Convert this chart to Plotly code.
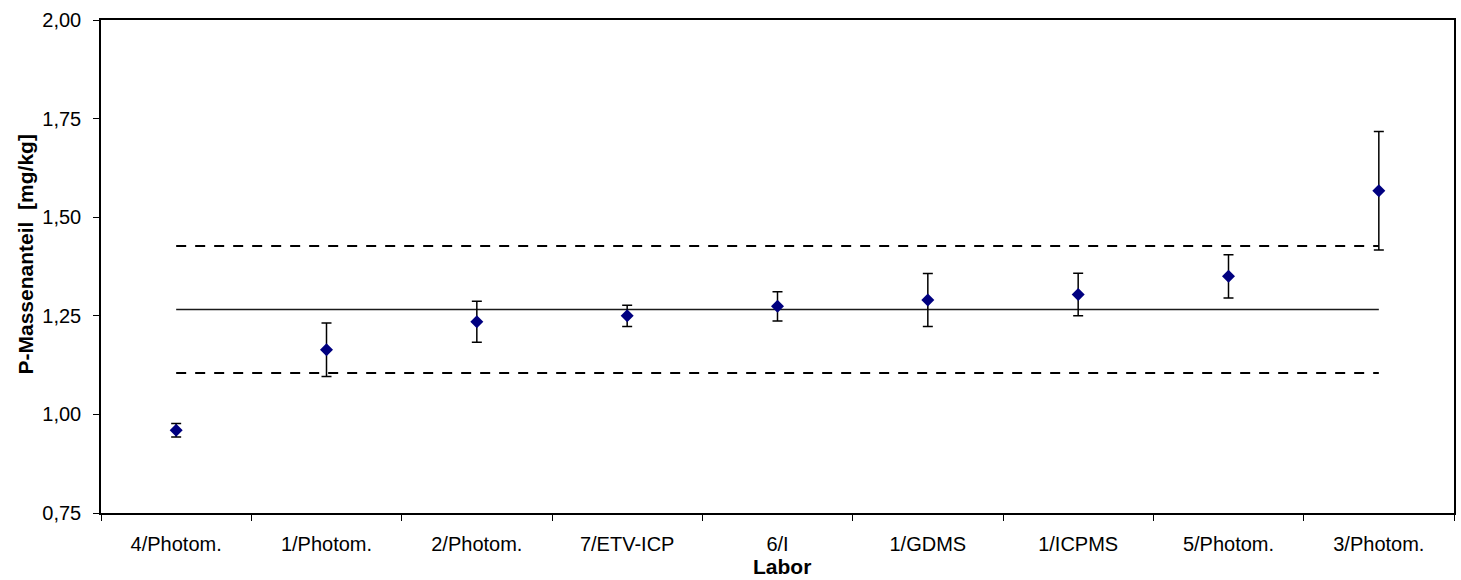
import plotly.graph_objects as go

labs = ["4/Photom.", "1/Photom.", "2/Photom.", "7/ETV-ICP", "6/I",
        "1/GDMS", "1/ICPMS", "5/Photom.", "3/Photom."]
values = [0.960, 1.164, 1.235, 1.250, 1.274, 1.290, 1.304, 1.350, 1.567]
uncert = [0.017, 0.068, 0.052, 0.027, 0.037, 0.067, 0.054, 0.055, 0.150]
mean_val = 1.266
lower_lim = 1.105
upper_lim = 1.427
y_ticks = [0.75, 1.0, 1.25, 1.5, 1.75, 2.0]

FONT = "Liberation Sans, Arial, sans-serif"

fig = go.Figure()

fig.add_trace(go.Scatter(
    x=[labs[0], labs[-1]], y=[mean_val, mean_val], mode="lines",
    line=dict(color="#1a1a1a", width=1.5), showlegend=False, hoverinfo="skip"))
for lim in (lower_lim, upper_lim):
    fig.add_trace(go.Scatter(
        x=[labs[0], labs[-1]], y=[lim, lim], mode="lines",
        line=dict(color="black", width=2, dash="10px,9px"),
        showlegend=False, hoverinfo="skip"))

fig.add_trace(go.Scatter(
    x=labs, y=values, mode="markers",
    marker=dict(symbol="diamond", color="#000080", size=10),
    error_y=dict(type="data", array=uncert, visible=True,
                 color="black", thickness=1.5, width=5),
    showlegend=False))

fig.update_layout(
    width=1461, height=580,
    margin=dict(l=101, r=5, t=20, b=67),
    plot_bgcolor="white", paper_bgcolor="white",
    separators=",.",
    font=dict(family=FONT, color="black", size=20),
)
fig.update_xaxes(
    type="category", categoryorder="array", categoryarray=labs,
    range=[-0.5, 8.5],
    showline=True, linecolor="black", linewidth=1.5, mirror=True,
    ticks="outside", tickson="boundaries", ticklen=6, tickcolor="black",
    showgrid=False, tickfont=dict(size=20), ticklabelstandoff=12,
)
fig.update_yaxes(
    range=[0.75, 2.0], tickvals=y_ticks,
    tickformat=".2f",
    showline=True, linecolor="black", linewidth=1.5, mirror=True,
    ticks="outside", ticklen=6, tickcolor="black",
    showgrid=False, zeroline=False, tickfont=dict(size=20), ticklabelstandoff=8,
)
fig.add_annotation(
    text="<b>Labor</b>", xref="paper", yref="paper", x=0.5, y=0,
    xanchor="center", yanchor="top", xshift=4, yshift=-40,
    showarrow=False, font=dict(family=FONT, size=21, color="black"))
fig.add_annotation(
    text="<b>P-Massenanteil&nbsp; [mg/kg]</b>", xref="paper", yref="paper",
    x=0, y=0.5, xanchor="center", yanchor="middle", xshift=-76, yshift=12,
    textangle=-90, showarrow=False,
    font=dict(family=FONT, size=21, color="black"))

fig.write_html("out.html", config={"displayModeBar": False},
               post_script="document.body.style.margin='0';")
